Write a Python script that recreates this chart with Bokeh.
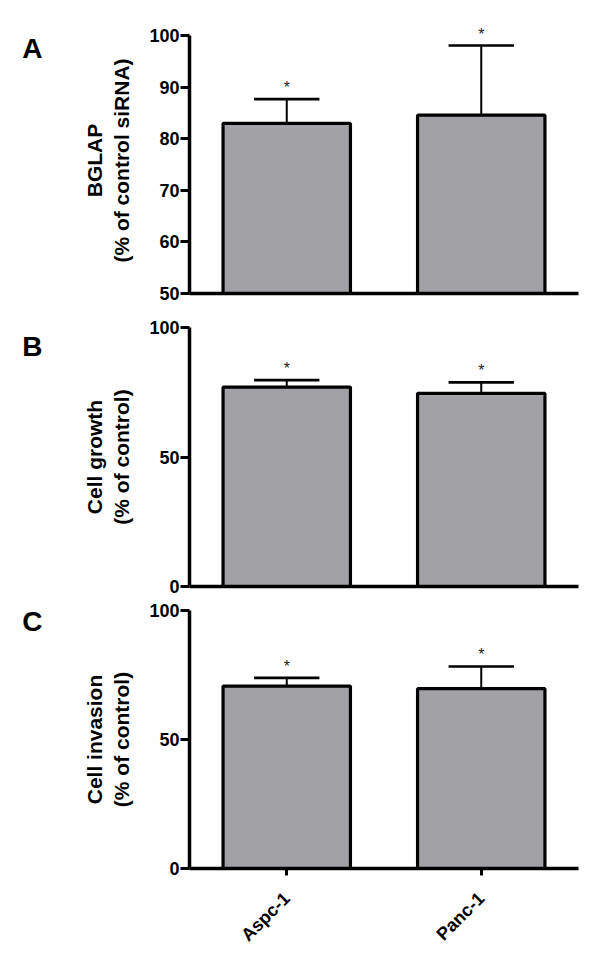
import math
from bokeh.plotting import figure
from bokeh.layouts import column
from bokeh.models import (FactorRange, Range1d, ColumnDataSource, LabelSet,
                          FixedTicker, LinearAxis)
from bokeh.transform import dodge
from bokeh.core.properties import value
from bokeh.embed import file_html
from bokeh.resources import INLINE

# ---- data ----
cell_lines = ["Aspc-1", "Panc-1"]

bglap_mean = [83.0, 84.6]
bglap_err = [4.7, 13.5]

growth_mean = [77.0, 74.6]
growth_err = [2.7, 4.2]

invasion_mean = [70.7, 69.7]
invasion_err = [3.2, 8.6]

panel_letters = ["A", "B", "C"]
y_titles = ["BGLAP\n(% of control siRNA)",
            "Cell growth\n(% of control)",
            "Cell invasion\n(% of control)"]
bglap_ticks = [50, 60, 70, 80, 90, 100]
pct_ticks = [0, 50, 100]
significance = ["*", "*"]

FONT = "Liberation Sans"
BAR_FILL = "#a2a1a6"


def panel(means, errs, ylo, yhi, yticks, ytitle, letter, letter_y,
          top_border, bottom_border, frame_h, show_x):
    p = figure(x_range=FactorRange(*cell_lines), y_range=Range1d(ylo, yhi),
               frame_width=389, frame_height=frame_h,
               min_border_left=189, min_border_right=22,
               min_border_top=top_border, min_border_bottom=bottom_border,
               output_backend="svg", toolbar_location=None,
               outline_line_color=None, background_fill_color="white",
               border_fill_color="white")
    p.xgrid.visible = False
    p.ygrid.visible = False

    src = ColumnDataSource(dict(
        x=cell_lines, top=means,
        err_top=[m + e for m, e in zip(means, errs)],
        star=significance))

    p.vbar(x="x", top="top", bottom=ylo, width=0.655, source=src,
           fill_color=BAR_FILL, line_color="black", line_width=3.2)
    # error bar stems and caps
    p.segment(x0="x", y0="top", x1="x", y1="err_top", source=src,
              line_color="black", line_width=2)
    p.segment(x0=dodge("x", -0.168, range=p.x_range), y0="err_top",
              x1=dodge("x", 0.168, range=p.x_range), y1="err_top", source=src,
              line_color="black", line_width=2.6)

    stars = LabelSet(x="x", y="err_top", text="star", source=src,
                     text_align="center", text_baseline="alphabetic",
                     y_offset=6, text_font=value(FONT), text_font_size="16px",
                     text_color="#222222")
    p.add_layout(stars)

    # y axis
    ya = p.yaxis[0]
    ya.ticker = FixedTicker(ticks=yticks)
    ya.bounds = (ylo, 100)
    ya.minor_tick_line_color = None
    ya.major_tick_in = 0
    ya.major_tick_out = 9
    ya.major_tick_line_width = 3
    ya.axis_line_width = 3.5
    ya.major_label_standoff = 1
    ya.major_label_text_font = FONT
    ya.major_label_text_font_style = "bold"
    ya.major_label_text_font_size = "18px"
    ya.major_label_text_color = "black"
    ya.axis_label = ytitle
    ya.axis_label_text_font = FONT
    ya.axis_label_text_font_style = "bold"
    ya.axis_label_text_font_size = "21px"
    ya.axis_label_text_color = "black"
    ya.axis_label_standoff = 13

    # panel letter, drawn as the single label of an outer left axis
    letter_axis = LinearAxis(ticker=FixedTicker(ticks=[letter_y]),
                             major_label_overrides={letter_y: letter},
                             axis_line_color=None, major_tick_line_color=None,
                             minor_tick_line_color=None,
                             major_tick_in=0, major_tick_out=0,
                             major_label_standoff=37,
                             major_label_text_font=FONT,
                             major_label_text_font_style="bold",
                             major_label_text_font_size="28px",
                             major_label_text_color="black")
    p.add_layout(letter_axis, "left")

    # x axis
    xa = p.xaxis[0]
    xa.axis_line_width = 3.5
    xa.major_tick_in = 0
    if show_x:
        xa.major_tick_out = 7
        xa.major_tick_line_width = 3
        xa.major_label_orientation = math.pi / 4
        xa.major_label_standoff = 20
        xa.major_label_text_font = FONT
        xa.major_label_text_font_style = "bold"
        xa.major_label_text_font_size = "18px"
        xa.major_label_text_color = "black"
    else:
        xa.ticker = FixedTicker(ticks=[])
        xa.major_tick_out = 0
        xa.major_tick_line_color = None
        xa.major_label_standoff = 0
    return p


pA = panel(bglap_mean, bglap_err, 50, 101.6, bglap_ticks, y_titles[0],
           panel_letters[0], 97.5, 27, 14, 266, False)
pB = panel(growth_mean, growth_err, 0, 100, pct_ticks, y_titles[1],
           panel_letters[1], 92.6, 20, 10, 259, False)
pC = panel(invasion_mean, invasion_err, 0, 100, pct_ticks, y_titles[2],
           panel_letters[2], 95.7, 14, 78, 258, True)

layout = column(pA, pB, pC, spacing=0)

with open("out.html", "w") as f:
    f.write(file_html(layout, INLINE))
